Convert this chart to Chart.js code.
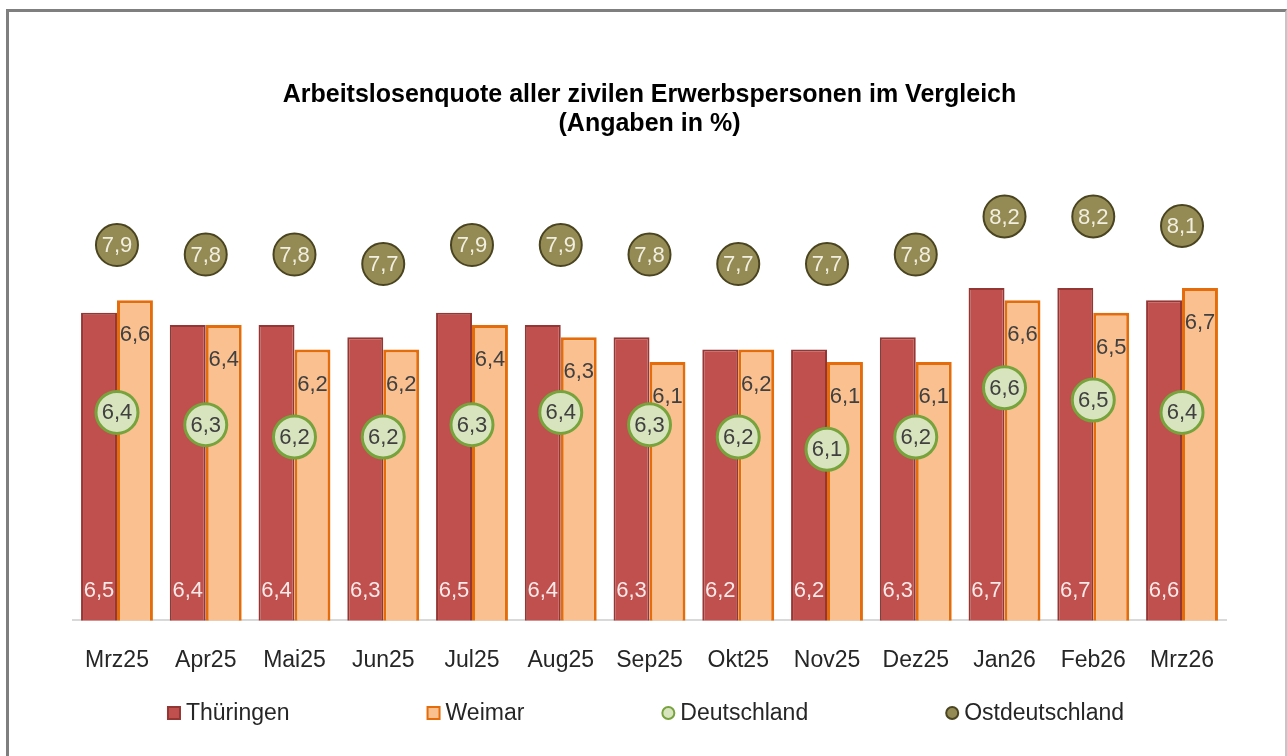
<!DOCTYPE html>
<html><head><meta charset="utf-8">
<script src="https://cdn.jsdelivr.net/npm/chart.js@4.4.1/dist/chart.umd.min.js"></script>
<style>
html,body{margin:0;padding:0;background:#fff;width:1287px;height:756px;overflow:hidden;}
#frame{position:absolute;left:6px;top:9px;width:1281px;height:800px;border-left:3px solid #7f7f7f;border-top:3px solid #7f7f7f;border-right:2px solid #c6c6c6;box-sizing:border-box;}
#c{position:absolute;left:0;top:0;}
</style></head><body>
<div id="frame"></div>
<canvas id="c" width="1287" height="756"></canvas>
<script>
const categories = ['Mrz25','Apr25','Mai25','Jun25','Jul25','Aug25','Sep25','Okt25','Nov25','Dez25','Jan26','Feb26','Mrz26'];
const thueringen = [6.5,6.4,6.4,6.3,6.5,6.4,6.3,6.2,6.2,6.3,6.7,6.7,6.6];
const weimar = [6.6,6.4,6.2,6.2,6.4,6.3,6.1,6.2,6.1,6.1,6.6,6.5,6.7];
const deutschland = [6.4,6.3,6.2,6.2,6.3,6.4,6.3,6.2,6.1,6.2,6.6,6.5,6.4];
const ostdeutschland = [7.9,7.8,7.8,7.7,7.9,7.9,7.8,7.7,7.7,7.8,8.2,8.2,8.1];
const titleLines = ['Arbeitslosenquote aller zivilen Erwerbspersonen im Vergleich','(Angaben in %)'];

const FONT = '"Liberation Sans", Arial, sans-serif';
const fmt = v => v.toFixed(1).replace('.', ',');

const valueLabels = {
  id: 'valueLabels',
  afterDatasetDraw(chart, args) {
    const ds = chart.data.datasets[args.index];
    const st = ds.labelStyle;
    const ctx = chart.ctx;
    ctx.save();
    ctx.font = '22px ' + FONT;
    ctx.textAlign = 'center';
    ctx.textBaseline = 'middle';
    ctx.fillStyle = st.color;
    const bottom = chart.chartArea.bottom;
    args.meta.data.forEach((el, j) => {
      let y = el.y;
      if (st.pos === 'base') y = bottom - 30;
      else if (st.pos === 'below') y = el.y + 34;
      ctx.fillText(fmt(ds.data[j]), el.x, y + 1);
    });
    ctx.restore();
  }
};

const customLegend = {
  id: 'customLegend',
  afterDraw(chart) {
    const ctx = chart.ctx;
    const ds = chart.data.datasets;
    ctx.save();
    ctx.font = '23px ' + FONT;
    ctx.textBaseline = 'middle';
    ctx.textAlign = 'left';
    const sym = 14, gap = 5, G = 137;
    const widths = ds.map(d => sym + gap + ctx.measureText(d.label).width);
    const total = widths.reduce((a, b) => a + b, 0) + G * (ds.length - 1);
    const ca = chart.chartArea;
    let x = (ca.left + ca.right) / 2 - total / 2 - 4;
    const y = 713;
    ds.forEach((d, i) => {
      ctx.lineWidth = 2;
      if (d.type === 'line') {
        ctx.fillStyle = d.pointBackgroundColor;
        ctx.strokeStyle = d.pointBorderColor;
        ctx.beginPath();
        ctx.arc(x + sym / 2, y, sym / 2 - 1, 0, Math.PI * 2);
        ctx.fill(); ctx.stroke();
      } else {
        ctx.fillStyle = d.backgroundColor;
        ctx.strokeStyle = d.borderColor;
        ctx.fillRect(x + 1, y - sym / 2 + 1, sym - 2, sym - 2);
        ctx.strokeRect(x + 1, y - sym / 2 + 1, sym - 2, sym - 2);
      }
      ctx.fillStyle = '#262626';
      ctx.fillText(d.label, x + sym + gap, y + 1);
      x += widths[i] + G;
    });
    ctx.restore();
  }
};

new Chart(document.getElementById('c'), {
  data: {
    labels: categories,
    datasets: [
      { type: 'bar', label: 'Thüringen', data: thueringen, yAxisID: 'y', order: 2,
        backgroundColor: '#c0504d', borderColor: '#943634', borderWidth: 2,
        categoryPercentage: 0.81, barPercentage: 1.0,
        labelStyle: { pos: 'base', color: 'rgba(255,255,255,0.88)' } },
      { type: 'bar', label: 'Weimar', data: weimar, yAxisID: 'y', order: 2,
        backgroundColor: '#fac090', borderColor: '#e46c0a', borderWidth: 3,
        categoryPercentage: 0.81, barPercentage: 1.0,
        labelStyle: { pos: 'below', color: '#404040' } },
      { type: 'line', label: 'Deutschland', data: deutschland, yAxisID: 'yD', order: 1,
        showLine: false, pointRadius: 21, pointHoverRadius: 21, pointBorderWidth: 3,
        pointBackgroundColor: '#d7e4bd', pointBorderColor: '#77a33d',
        backgroundColor: '#d7e4bd', borderColor: '#77a33d',
        labelStyle: { pos: 'center', color: '#404040' } },
      { type: 'line', label: 'Ostdeutschland', data: ostdeutschland, yAxisID: 'yO', order: 0,
        showLine: false, pointRadius: 21, pointHoverRadius: 21, pointBorderWidth: 2,
        pointBackgroundColor: '#948a54', pointBorderColor: '#4a4420',
        backgroundColor: '#948a54', borderColor: '#4a4420',
        labelStyle: { pos: 'center', color: '#f2efe0' } }
    ]
  },
  options: {
    responsive: false,
    animation: false,
    events: [],
    layout: { padding: { left: 72.6, right: 60.6, top: 0, bottom: 56 } },
    plugins: {
      legend: { display: false },
      tooltip: { enabled: false },
      title: {
        display: true, text: titleLines, color: '#000',
        font: { family: FONT, size: 25, weight: 'bold', lineHeight: 1.17 },
        padding: { top: 80, bottom: 31.4 }
      }
    },
    scales: {
      x: {
        offset: true,
        grid: { display: false, drawTicks: false },
        border: { display: true, color: '#d9d9d9', width: 2 },
        ticks: { font: { family: FONT, size: 23 }, color: '#262626', padding: 26, maxRotation: 0, autoSkip: false }
      },
      y: { display: false, min: 4.0, max: 7.66 },
      yD: { display: false, min: 4.71, max: 8.37 },
      yO: { display: false, min: 3.95, max: 8.69 }
    }
  },
  plugins: [valueLabels, customLegend]
});
</script>
</body></html>
